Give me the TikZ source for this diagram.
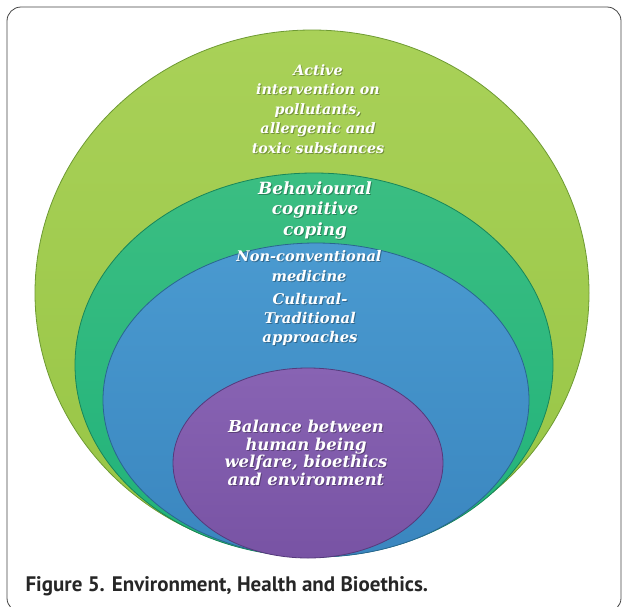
\documentclass[tikz,border=0pt]{standalone}
\usepackage{fontspec}
\setmainfont{DejaVu Serif}
\newfontfamily\capfont{PT Sans}
\usetikzlibrary{shapes.geometric}
\definecolor{gLime}{HTML}{97C545}
\definecolor{gLimeTop}{HTML}{A9D158}
\definecolor{gLimeEdge}{HTML}{6E9A33}
\definecolor{gTeal}{HTML}{20B27A}
\definecolor{gTealTop}{HTML}{3BBE82}
\definecolor{gTealEdge}{HTML}{17865A}
\definecolor{gBlue}{HTML}{3A86BF}
\definecolor{gBlueTop}{HTML}{4A9AD0}
\definecolor{gBlueEdge}{HTML}{2A6690}
\definecolor{gPurple}{HTML}{7853A4}
\definecolor{gPurpleTop}{HTML}{8863B3}
\definecolor{gPurpleEdge}{HTML}{553A7C}
\definecolor{frameCol}{HTML}{444444}
\begin{document}
\begin{tikzpicture}[x=1pt,y=-1pt,
  ring/.style={draw=#1Edge, line width=0.8pt, top color=#1Top, bottom color=#1},
  lbl/.style={text=white, align=center},
  shd/.style={text=black, opacity=0.3, align=center},
]
\useasboundingbox (0,0) rectangle (624,606);
\begin{scope}
\clip (0,0) rectangle (624,606);
\draw[frameCol, line width=0.8pt, rounded corners=14pt] (7,7) rectangle (621,612);
\end{scope}
% ellipses
\shade[ring=gLime] (312,293) ellipse [x radius=277, y radius=263];
\shade[ring=gTeal] (314,365) ellipse [x radius=239, y radius=192];
\shade[ring=gBlue] (316,400) ellipse [x radius=213, y radius=157];
\shade[ring=gPurple] (308,463) ellipse [x radius=135, y radius=95];
% labels
\tikzset{
  f1/.style={font=\fontsize{14.3}{19.5}\selectfont\bfseries\itshape},
  f2/.style={font=\fontsize{16.8}{20.5}\selectfont\bfseries\itshape},
  f3/.style={font=\fontsize{14.6}{20}\selectfont\bfseries\itshape},
  f4/.style={font=\fontsize{14.8}{19}\selectfont\bfseries\itshape},
  f5/.style={font=\fontsize{16.4}{17.5}\selectfont\bfseries\itshape},
}
\node[shd, f1] (s1) at (319,110) {Active\\intervention on\\pollutants,\\allergenic and\\toxic substances};
\node[lbl, f1] (t1) at (318,109) {Active\\intervention on\\pollutants,\\allergenic and\\toxic substances};
\node[shd, f2] (s2) at (316,211) {Behavioural\\cognitive\\coping};
\node[lbl, f2] (t2) at (315,210) {Behavioural\\cognitive\\coping};
\node[shd, f3] (s3) at (310,267) {Non-conventional\\medicine};
\node[lbl, f3] (t3) at (309,266) {Non-conventional\\medicine};
\node[shd, f4] (s4) at (311,320) {Cultural-\\Traditional\\approaches};
\node[lbl, f4] (t4) at (310,319) {Cultural-\\Traditional\\approaches};
\node[shd, f5] (s5) at (307,454) {Balance between\\human being\\welfare, bioethics\\and environment};
\node[lbl, f5] (t5) at (306,453) {Balance between\\human being\\welfare, bioethics\\and environment};
\node[anchor=base west, font=\capfont\bfseries\fontsize{21}{24}\selectfont, text=black!85] (cap) at (22,591) {Figure 5. Environment, Health and Bioethics.};
\end{tikzpicture}
\end{document}
